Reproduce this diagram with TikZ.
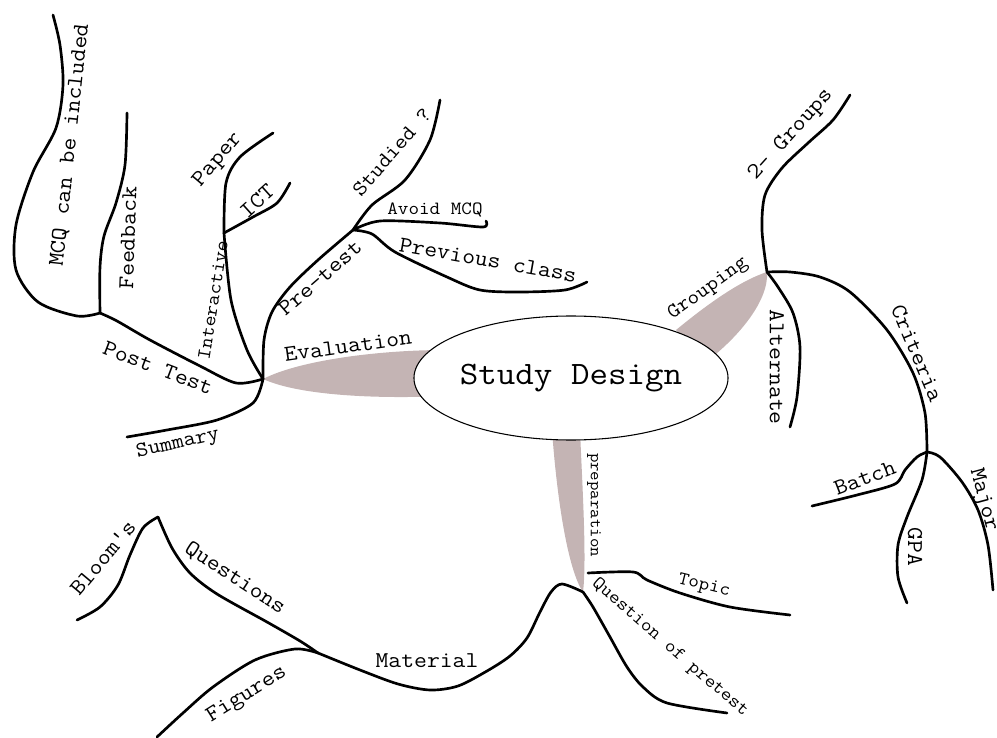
\documentclass[tikz,border=0pt]{standalone}
\usepackage{fontspec}
\usetikzlibrary{positioning,shapes.geometric}
\definecolor{leaf}{RGB}{196,180,180}

\begin{document}
\begin{tikzpicture}[x=0.75pt,y=-0.75pt]
	\tikzset{
	    branch/.style={line width=2pt, line cap=round, line join=round},
	    lbl/.style={font=\ttfamily\fontsize{17}{19}\selectfont, inner sep=1pt, rotate=#1, xscale=1.1},
	    lbl/.default=0,
	    lblsmall/.style={font=\ttfamily\fontsize{14}{16}\selectfont, inner sep=1pt, rotate=#1, xscale=1.1},
	    lblsmall/.default=0,
	    petal/.style={fill=leaf}
	}
	\useasboundingbox (0,0) rectangle (997,738);

	% hubs and branch ends
	\coordinate (eval) at (263,379);
	\coordinate (post) at (100,313);
	\coordinate (mcq) at (53,15);
	\coordinate (feed) at (127,113);
	\coordinate (inter) at (224,233);
	\coordinate (paper) at (273,133);
	\coordinate (ict) at (290,183);
	\coordinate (pre) at (353,230);
	\coordinate (studied) at (440,100);
	\coordinate (avoid) at (486,221);
	\coordinate (prev) at (587,282);
	\coordinate (summ) at (127,437);
	\coordinate (grp) at (767,272);
	\coordinate (twogrp) at (850,95);
	\coordinate (alt) at (790,427);
	\coordinate (crit) at (927,452);
	\coordinate (batch) at (812,506);
	\coordinate (gpa) at (907,603);
	\coordinate (major) at (993,590);
	\coordinate (prep) at (583,592);
	\coordinate (prepr) at (588,573);
	\coordinate (topic) at (790,615);
	\coordinate (qpre) at (727,713);
	\coordinate (mat) at (318,653);
	\coordinate (bloomtop) at (158,517);
	\coordinate (bloom) at (77,620);
	\coordinate (fig) at (157,737);

	% main legs
	\fill[petal] (eval) .. controls (300,360) and (380,350) .. (445,350) -- (445,396) .. controls (380,399) and (300,396) .. (eval);
	\fill[petal] (676,330) .. controls (710,302) and (742,280) .. (grp) .. controls (769,300) and (740,336) .. (706,362) -- cycle;
	\fill[petal] (552,430) .. controls (557,500) and (568,570) .. (prep) .. controls (587,560) and (582,480) .. (580,430) -- cycle;

	\node[draw, ellipse, line width=0.8pt, fill=white, minimum width=208pt, minimum height=93pt, inner sep=0pt,
	      font=\ttfamily\fontsize{24.5}{27}\selectfont] (core) at (571,378) {\scalebox{1.1}[1]{Study Design}};

	% evaluation
	\draw[branch] plot[smooth] coordinates {(eval) (236,383) (200,366) (150,340) (117,321) (post)};
	\draw[branch] plot[smooth] coordinates {(post) (77,316) (38,302) (16,270) (16,225) (33,172) (56,128) (63,85) (60,45) (mcq)};
	\draw[branch] plot[smooth] coordinates {(post) (100,267) (104,236) (116,203) (125,165) (feed)};
	\draw[branch] plot[smooth] coordinates {(eval) (247,350) (231,300) (inter)};
	\draw[branch] plot[smooth] coordinates {(inter) (226,183) (240,157) (paper)};
	\draw[branch] plot[smooth] coordinates {(inter) (253,217) (277,203) (ict)};
	\draw[branch] plot[smooth] coordinates {(eval) (264,340) (272,312) (290,287) (318,260) (pre)};
	\draw[branch] plot[smooth] coordinates {(pre) (372,205) (405,180) (430,140) (studied)};
	\draw[branch] plot[smooth] coordinates {(pre) (380,221) (440,223) (483,227) (avoid)};
	\draw[branch] plot[smooth] coordinates {(pre) (372,234) (395,252) (447,277) (480,290) (520,292) (565,290) (prev)};
	\draw[branch] plot[smooth] coordinates {(eval) (253,403) (217,420) (167,430) (summ)};

	% grouping
	\draw[branch] plot[smooth] coordinates {(grp) (762,230) (765,195) (782,168) (808,143) (833,120) (twogrp)};
	\draw[branch] plot[smooth] coordinates {(grp) (778,287) (793,313) (800,347) (797,397) (alt)};
	\draw[branch] plot[smooth] coordinates {(grp) (790,272) (820,277) (850,292) (887,330) (913,373) (925,413) (crit)};
	\draw[branch] plot[smooth] coordinates {(crit) (917,457) (905,470) (895,484) (857,495) (batch)};
	\draw[branch] plot[smooth] coordinates {(crit) (922,480) (907,517) (898,545) (898,577) (gpa)};
	\draw[branch] plot[smooth] coordinates {(crit) (940,457) (962,482) (978,510) (988,545) (major)};

	% preparation
	\draw[branch] plot[smooth] coordinates {(prep) (562,584) (551,592) (540,612) (527,638) (510,656) (487,671) (458,686) (430,690) (398,684) (360,670) (mat)};
	\draw[branch] plot[smooth] coordinates {(mat) (300,641) (267,622) (217,594) (190,573) (172,548) (bloomtop)};
	\draw[branch] plot[smooth] coordinates {(bloomtop) (143,528) (130,555) (118,585) (100,607) (bloom)};
	\draw[branch] plot[smooth] coordinates {(mat) (295,649) (255,660) (213,687) (183,713) (fig)};
	\draw[branch] plot[smooth] coordinates {(prepr) (633,572) (647,580) (680,593) (730,607) (topic)};
	\draw[branch] plot[smooth] coordinates {(prep) (593,607) (610,637) (627,667) (643,687) (667,703) (qpre)};

	% labels
	\node[lbl=8] (evaltxt) at (348,346) {Evaluation};
	\node[lbl=-21] (posttxt) at (158,368) {Post Test};
	\node[lbl=84] (mcqtxt) at (70,145) {MCQ can be included};
	\node[lbl=88] (feedtxt) at (128,238) {Feedback};
	\node[lblsmall=81, font=\ttfamily\fontsize{14.5}{16}\selectfont] (intertxt) at (213,300) {Interactive};
	\node[lbl=50] (papertxt) at (218,160) {Paper};
	\node[lbl=42] (icttxt) at (257,201) {ICT};
	\node[lbl=49, font=\ttfamily\fontsize{16}{18}\selectfont] (studtxt) at (392,152) {Studied ?};
	\node[lbl=41] (pretxt) at (320,278) {Pre-test};
	\node[lblsmall] (avoidtxt) at (435,210) {Avoid MCQ};
	\node[lbl=-10] (prevtxt) at (488,260) {Previous class};
	\node[lbl=13, font=\ttfamily\fontsize{16}{18}\selectfont] (summtxt) at (178,444) {Summary};
	\node[lbl=36, font=\ttfamily\fontsize{15.5}{17}\selectfont] (grptxt) at (708,289) {Grouping};
	\node[lbl=48] (twotxt) at (791,135) {2- Groups};
	\node[lbl=-90] (alttxt) at (777,367) {Alternate};
	\node[lbl=-67] (crittxt) at (917,353) {Criteria};
	\node[lbl=21] (batchtxt) at (865,478) {Batch};
	\node[lbl=-90] (gpatxt) at (915,547) {GPA};
	\node[lbl=-75] (majortxt) at (983,500) {Major};
	\node[lblsmall=-90, font=\ttfamily\fontsize{12.5}{14}\selectfont] (preptxt) at (594,505) {preparation};
	\node[lblsmall=-14] (topictxt) at (704,586) {Topic};
	\node[lblsmall=-41] (qpretxt) at (670,648) {Question of pretest};
	\node[lbl] (mattxt) at (427,661) {Material};
	\node[lbl=-33] (questtxt) at (235,578) {Questions};
	\node[lbl=50] (bloomtxt) at (103,558) {Bloom's};
	\node[lbl=32] (figtxt) at (247,695) {Figures};
\end{tikzpicture}
\end{document}
